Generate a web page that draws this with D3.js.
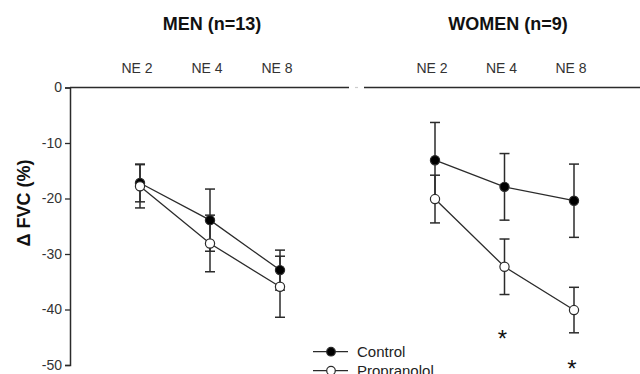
<!DOCTYPE html>
<html><head><meta charset="utf-8">
<script src="https://cdn.jsdelivr.net/npm/d3@7"></script>
<style>body{margin:0;background:#fff}svg{display:block}</style>
</head><body>
<svg id="c" width="640" height="374"></svg>
<script>
const categories = ["NE 2", "NE 4", "NE 8"];
const panels = ["MEN (n=13)", "WOMEN (n=9)"];
const seriesNames = ["Control", "Propranolol"];
// mean values
const menControl = [-17.2, -23.9, -32.9];
const menPropranolol = [-17.8, -28.1, -35.9];
const womenControl = [-13.1, -17.9, -20.4];
const womenPropranolol = [-20.1, -32.3, -40.1];
// error bar half-widths (SEM)
const menControlErr = [3.4, 5.6, 3.6];
const menPropranololErr = [3.9, 5.1, 5.5];
const womenControlErr = [6.8, 6.0, 6.6];
const womenPropranololErr = [4.3, 5.0, 4.1];
const yTicks = [0, -10, -20, -30, -40, -50];
const yTickLabels = ["0", "-10", "-20", "-30", "-40", "-50"];
const significant = [[1, "NE 4"], [1, "NE 8"]];

const svg = d3.select("#c");
const y = d3.scaleLinear().domain([-50, 0]).range([365, 87.5]);
const xMen = d3.scalePoint().domain(categories).range([140, 280]);
const xWomen = d3.scalePoint().domain(categories).range([435, 574]);
const xs = [xMen, xWomen];
const ink = "#2b2b2b";

// y axis
const yAxis = d3.axisLeft(y).tickValues(yTicks).tickSize(5).tickPadding(3)
  .tickFormat((d, i) => yTickLabels[i]);
const ga = svg.append("g").attr("transform", "translate(70,0)").call(yAxis);
ga.select(".domain").attr("stroke", ink).attr("stroke-width", 1.5);
ga.selectAll(".tick line").attr("stroke", ink).attr("stroke-width", 1.3);
ga.selectAll(".tick text").attr("font-family", "Liberation Sans, Arial, sans-serif").attr("font-size", 14).attr("fill", "#333");

// top axes (category axes)
svg.append("line").attr("x1", 70).attr("x2", 349).attr("y1", y(0)).attr("y2", y(0)).attr("stroke", ink).attr("stroke-width", 1.5);
svg.append("line").attr("x1", 355).attr("x2", 358).attr("y1", y(0)).attr("y2", y(0)).attr("stroke", "#ccc").attr("stroke-width", 1.2);
svg.append("line").attr("x1", 364).attr("x2", 640).attr("y1", y(0)).attr("y2", y(0)).attr("stroke", ink).attr("stroke-width", 1.5);

// category labels and panel titles
const titleX = [212, 508];
xs.forEach((x, i) => {
  svg.append("g").selectAll("text").data(categories).join("text")
    .attr("x", d => x(d) - 3).attr("y", 73)
    .attr("text-anchor", "middle")
    .attr("font-family", "Liberation Sans, Arial, sans-serif").attr("font-size", 14).attr("fill", "#333")
    .text(d => d);
  svg.append("text").attr("x", titleX[i]).attr("y", 30).attr("text-anchor", "middle")
    .attr("font-family", "Liberation Sans, Arial, sans-serif").attr("font-size", 18).attr("font-weight", "bold")
    .attr("fill", "#111").text(panels[i]);
});

// y label
svg.append("text").attr("transform", "translate(30,203) rotate(-90)").attr("text-anchor", "middle")
  .attr("font-family", "Liberation Sans, Arial, sans-serif").attr("font-size", 18).attr("font-weight", "bold")
  .attr("fill", "#111").text("\u0394 FVC (%)");

const data = [
  [{ v: menControl, e: menControlErr, filled: true }, { v: menPropranolol, e: menPropranololErr, filled: false }],
  [{ v: womenControl, e: womenControlErr, filled: true }, { v: womenPropranolol, e: womenPropranololErr, filled: false }]
];
const line = d3.line();
data.forEach((panel, pi) => {
  const x = xs[pi];
  const g = svg.append("g");
  // error bars
  panel.forEach(s => {
    s.v.forEach((v, k) => {
      const cx = x(categories[k]);
      const top = y(v + s.e[k]), bot = y(v - s.e[k]);
      g.append("line").attr("x1", cx).attr("x2", cx).attr("y1", top).attr("y2", bot).attr("stroke", ink).attr("stroke-width", 1.5);
      [top, bot].forEach(yy => g.append("line").attr("x1", cx - 5).attr("x2", cx + 5).attr("y1", yy).attr("y2", yy).attr("stroke", ink).attr("stroke-width", 1.5));
    });
  });
  panel.forEach(s => {
    g.append("path").attr("d", line(s.v.map((v, k) => [x(categories[k]), y(v)])))
      .attr("fill", "none").attr("stroke", ink).attr("stroke-width", 1.3);
  });
  panel.forEach(s => {
    g.selectAll(null).data(s.v).join("circle")
      .attr("cx", (v, k) => x(categories[k])).attr("cy", v => y(v)).attr("r", 4.6)
      .attr("fill", s.filled ? "#000" : "#fff").attr("stroke", ink).attr("stroke-width", 1.2);
  });
});

// significance asterisks
const astY = [-44.3, -49.6];
significant.forEach((s, i) => {
  svg.append("text").attr("x", xs[s[0]](s[1]) - 2).attr("y", y(astY[i]) + 14)
    .attr("text-anchor", "middle").attr("font-family", "Liberation Sans, Arial, sans-serif")
    .attr("font-size", 24).attr("fill", "#111").text("*");
});

// legend
const lg = svg.append("g");
seriesNames.forEach((n, i) => {
  const yy = 351.7 + i * 19;
  lg.append("line").attr("x1", 313).attr("x2", 348).attr("y1", yy).attr("y2", yy).attr("stroke", ink).attr("stroke-width", 1.3);
  lg.append("circle").attr("cx", 331).attr("cy", yy).attr("r", 4.3).attr("fill", i === 0 ? "#000" : "#fff").attr("stroke", ink).attr("stroke-width", 1.2);
  lg.append("text").attr("x", 357).attr("y", yy + 5.5).attr("font-family", "Liberation Sans, Arial, sans-serif")
    .attr("font-size", 15).attr("fill", "#222").text(n);
});
</script>
</body></html>
